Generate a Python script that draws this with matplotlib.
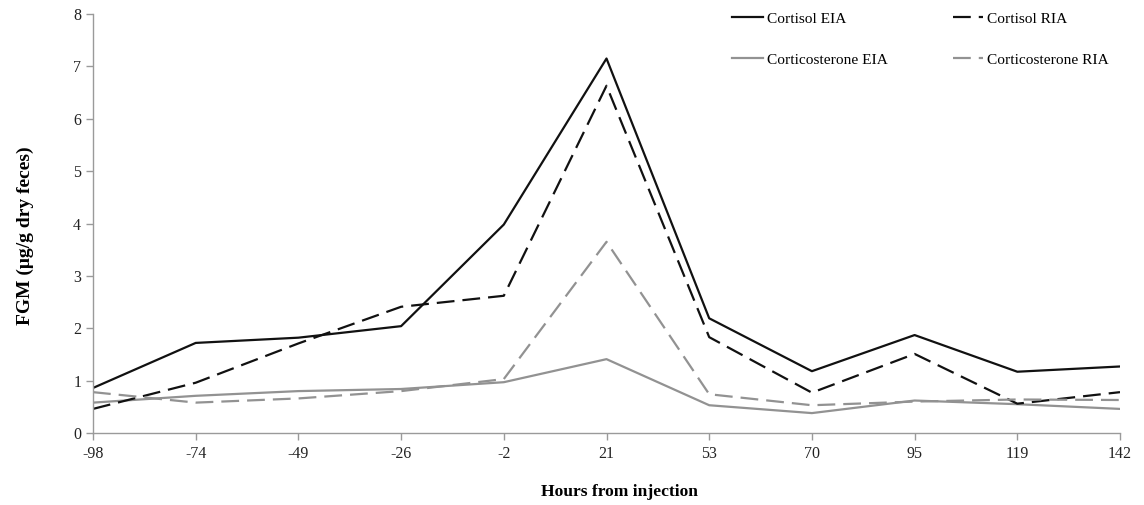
import matplotlib.pyplot as plt
import numpy as np

# ==================== Data ====================
hours = ["-98", "-74", "-49", "-26", "-2", "21", "53", "70", "95", "119", "142"]
cortisol_eia = [0.86, 1.72, 1.82, 2.04, 3.98, 7.15, 2.19, 1.18, 1.87, 1.17, 1.27]
cortisol_ria = [0.46, 0.96, 1.71, 2.41, 2.62, 6.63, 1.83, 0.77, 1.51, 0.56, 0.78]
cortico_eia = [0.58, 0.71, 0.80, 0.84, 0.97, 1.41, 0.53, 0.38, 0.62, 0.55, 0.46]
cortico_ria = [0.78, 0.58, 0.66, 0.80, 1.03, 3.65, 0.74, 0.53, 0.60, 0.64, 0.63]

# ==================== Style ====================
plt.rcParams['font.family'] = ['Liberation Serif', 'DejaVu Serif']
black = '#111111'
gray = '#929292'
axis_gray = '#9a9a9a'

fig = plt.figure(figsize=(11.44, 5.05), dpi=100)
ax = fig.add_axes([93 / 1144, 1 - 433 / 505, (1120 - 93) / 1144, (433 - 14) / 505])

x = np.arange(len(hours))
ax.plot(x, cortisol_eia, color=black, lw=1.6, label="Cortisol EIA")
ax.plot(x, cortico_eia, color=gray, lw=1.6, label="Corticosterone EIA")
ax.plot(x, cortisol_ria, color=black, lw=1.6, dashes=(8, 3.6), label="Cortisol RIA")
ax.plot(x, cortico_ria, color=gray, lw=1.6, dashes=(8, 3.6), label="Corticosterone RIA")

ax.set_xlim(0, len(hours) - 1)
ax.set_ylim(0, 8)
ax.set_xticks(x)
ax.set_xticklabels(hours)
ax.set_yticks(range(0, 9))

for side in ['top', 'right']:
    ax.spines[side].set_visible(False)
for side in ['left', 'bottom']:
    ax.spines[side].set_color(axis_gray)
    ax.spines[side].set_linewidth(1.0)
ax.tick_params(axis='both', colors=axis_gray, labelcolor='#222222',
               labelsize=11.5, length=5, width=1.0, direction='out')
ax.tick_params(axis='x', pad=4)

ax.set_xlabel("Hours from injection", fontsize=12.6, fontweight='bold')
ax.xaxis.set_label_coords(0.5125, -0.122)
ax.set_ylabel("FGM (μg/g dry feces)", fontsize=14, fontweight='bold')
ax.yaxis.set_label_coords(-0.057, 0.472)

ax.legend(loc='upper left', bbox_to_anchor=(0.609, 1.038), ncol=2, frameon=False,
          fontsize=11.1, handlelength=2.0, handletextpad=0.25, columnspacing=4.2,
          labelspacing=1.75)

plt.savefig("out.png", dpi=100)
